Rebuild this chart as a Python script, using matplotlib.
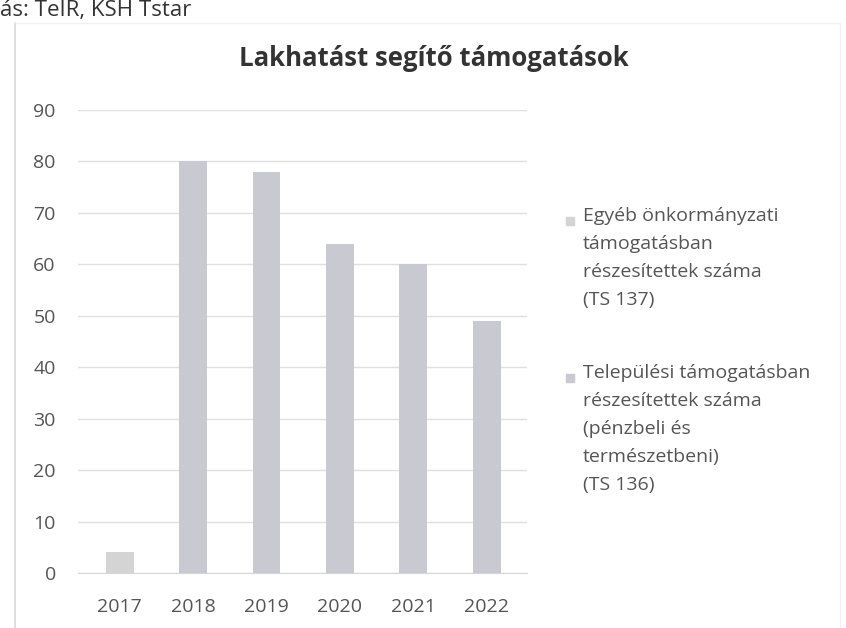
import matplotlib.pyplot as plt
from matplotlib.patches import Rectangle

plt.rcParams['font.family'] = ['Open Sans', 'DejaVu Sans']

YEARS = ["2017", "2018", "2019", "2020", "2021", "2022"]
# Egyéb önkormányzati támogatás (TS 137)
EGYEB = [4, 0, 0, 0, 0, 0]
# Települési támogatás (TS 136)
TELEPULESI = [0, 80, 78, 64, 60, 49]

LABELS = [
    "Egyéb önkormányzati\ntámogatásban\nrészesítettek száma\n(TS 137)",
    "Települési támogatásban\nrészesítettek száma\n(pénzbeli és\ntermészetbeni)\n(TS 136)",
]
COLORS = ["#d4d4d4", "#c9c9d1"]
TXT = "#555555"

W, H = 846, 628
fig = plt.figure(figsize=(W / 100, H / 100), dpi=100)
ax = fig.add_axes([78 / W, 1 - 573 / H, 449 / W, 463 / H])

x = range(len(YEARS))
ax.bar(x, EGYEB, width=0.38, color=COLORS[0], zorder=2)
ax.bar(x, TELEPULESI, width=0.38, bottom=EGYEB, color=COLORS[1], zorder=2)

ax.set_ylim(0, 90)
ax.set_xlim(-0.57, 5.55)
ax.set_yticks(range(0, 91, 10))
ax.set_xticks(list(x))
ax.set_xticklabels(YEARS)
ax.yaxis.grid(True, color="#e0e0e0", lw=1, zorder=0)
for s in ["top", "right", "left"]:
    ax.spines[s].set_visible(False)
ax.spines["bottom"].set_color("#d6d6d6")
ax.tick_params(length=0, labelsize=14, colors=TXT)
ax.tick_params(axis="x", pad=18)
ax.tick_params(axis="y", pad=16)

fig.text(434 / W, 1 - 58 / H, "Lakhatást segítő támogatások", ha="center", va="center",
         fontsize=18.5, fontweight="bold", color="#333333")

fig.text(0.0, 1.0, "ás: TeIR, KSH Tstar", ha="left", va="top",
         fontsize=16, color="#333333")

# light frame of the chart area
fig.add_artist(plt.Line2D([15 / W, 15 / W], [0.0, 1 - 23 / H], color="#d8d8d8", lw=1.2))
fig.add_artist(plt.Line2D([15 / W, 840 / W], [1 - 23 / H, 1 - 23 / H], color="#f0f0f0", lw=1))
fig.add_artist(plt.Line2D([840 / W, 840 / W], [0.0, 1 - 23 / H], color="#f0f0f0", lw=1))

# legend
for i, (lab, yc) in enumerate(zip(LABELS, [221, 378])):
    yfig = 1 - yc / H
    fig.patches.append(Rectangle((566 / W, yfig - 4 / H), 8 / W, 8 / H,
                                 transform=fig.transFigure, color=COLORS[i]))
    fig.text(583 / W, yfig + 14 / H, lab, ha="left", va="top",
             fontsize=14, color=TXT, linespacing=1.72)

fig.savefig("out.png", dpi=100)
